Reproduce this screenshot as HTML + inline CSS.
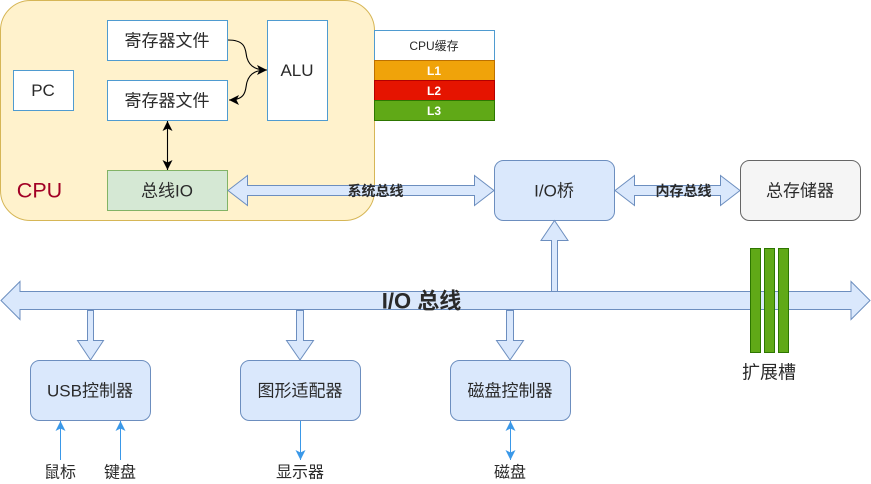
<!DOCTYPE html>
<html><head><meta charset="utf-8"><style>
html,body{margin:0;padding:0;background:#fff}
svg{display:block}
text{font-family:"Liberation Sans","Noto Sans CJK SC",sans-serif;text-anchor:middle;dominant-baseline:central;fill:#2a2a2a}
</style></head><body>
<svg width="871" height="484" viewBox="0 0 871 484" xmlns="http://www.w3.org/2000/svg">
<defs>
<marker id="k" markerWidth="11" markerHeight="11" refX="10" refY="5" orient="auto-start-reverse" markerUnits="userSpaceOnUse"><path d="M0 0L10 5L0 10L2.500 5Z" fill="#000"/></marker>
<marker id="b" markerWidth="11" markerHeight="11" refX="10" refY="5" orient="auto-start-reverse" markerUnits="userSpaceOnUse"><path d="M0 0L10 5L0 10L2.500 5Z" fill="#3a98e8"/></marker>
</defs>
<rect x="0.5" y="0.5" width="374" height="220" rx="30" fill="#fff2cc" stroke="#d6b656"/>
<g fill="#fff" stroke="#4f9bd0">
<rect x="107.500" y="20.500" width="120" height="40"/>
<rect x="107.500" y="80.500" width="120" height="40"/>
<rect x="13.500" y="70.500" width="60" height="40"/>
<rect x="267.500" y="20.500" width="60" height="100"/>
<rect x="374.500" y="30.500" width="120" height="30"/>
</g>
<rect x="107.500" y="170.500" width="120" height="40" fill="#d5e8d4" stroke="#82b366"/>
<rect x="374.500" y="60.500" width="120" height="20" fill="#f0a30a" stroke="#bd7000"/>
<rect x="374.500" y="80.500" width="120" height="20" fill="#e51400" stroke="#b20000"/>
<rect x="374.500" y="100.500" width="120" height="20" fill="#60a917" stroke="#2d7600"/>
<g fill="none" stroke="#000" stroke-width="1.1">
<path d="M228 40C248 40 245 52 247 58C250 68 258 70 267 70" marker-end="url(#k)"/>
<path d="M229 100C248 100 245 88 247 82C250 72 258 70 267 70" marker-start="url(#k)"/>
<path d="M167.500 121V170" marker-start="url(#k)" marker-end="url(#k)"/>
</g>
<g fill="#dae8fc" stroke="#6c8ebf">
<path d="M228 190.500L247.500 175.500V185.500H474.500V175.500L494 190.500L474.500 205.500V195.500H247.500V205.500Z"/>
<path d="M615 190.500L634.500 175.500V185.500H720.500V175.500L740 190.500L720.500 205.500V195.500H634.500V205.500Z"/>
<rect x="494.500" y="160.500" width="120" height="60" rx="9"/>
<path d="M551.500 292V240.500H541L554.500 220.500L568 240.500H557.500V292Z"/>
<path d="M1 300.500L20 281.500V291.500H851V281.500L870 300.500L851 319.500V309.500H20V319.500Z"/>
<path d="M87.500 310.500V340.500H77.500L90.500 360L103.500 340.500H93.500V310.500Z"/>
<path d="M296.500 310.500V340.500H286.500L300 360L313.500 340.500H303.500V310.500Z"/>
<path d="M506.500 310.500V340.500H496.500L510 360L523.500 340.500H513.500V310.500Z"/>
<rect x="30.500" y="360.500" width="120" height="60" rx="9"/>
<rect x="240.500" y="360.500" width="120" height="60" rx="9"/>
<rect x="450.500" y="360.500" width="120" height="60" rx="9"/>
</g>
<rect x="740.500" y="160.500" width="120" height="60" rx="9" fill="#f5f5f5" stroke="#666"/>
<g fill="#60a917" stroke="#2d7600">
<rect x="750.500" y="248.500" width="10" height="104"/>
<rect x="764.500" y="248.500" width="10" height="104"/>
<rect x="778.500" y="248.500" width="10" height="104"/>
</g>
<g fill="none" stroke="#3a98e8">
<path d="M60.500 460V421" marker-end="url(#b)"/>
<path d="M120.500 460V421" marker-end="url(#b)"/>
<path d="M300.500 421V460" marker-end="url(#b)"/>
<path d="M510.500 421V460" marker-start="url(#b)" marker-end="url(#b)"/>
</g>
<g font-size="17">
<text x="167" y="41">寄存器文件</text>
<text x="167" y="101">寄存器文件</text>
<text x="43" y="90.500">PC</text>
<text x="297" y="70.500">ALU</text>
<text x="167" y="191">总线IO</text>
<text x="554" y="191">I/O桥</text>
<text x="800" y="191">总存储器</text>
<text x="90" y="391">USB控制器</text>
<text x="300" y="391">图形适配器</text>
<text x="510" y="391">磁盘控制器</text>
</g>
<text x="769" y="372.500" font-size="18">扩展槽</text>
<text x="39.500" y="190.500" font-size="21.500" style="fill:#a20025">CPU</text>
<text x="434" y="46" font-size="12">CPU缓存</text>
<g font-size="12" font-weight="bold">
<text x="434" y="71" style="fill:#fff">L1</text>
<text x="434" y="91" style="fill:#fff">L2</text>
<text x="434" y="111" style="fill:#fff">L3</text>
</g>
<g font-size="14" font-weight="bold">
<text x="375.500" y="191">系统总线</text>
<text x="683.500" y="191">内存总线</text>
</g>
<text x="421.500" y="301" font-size="22" font-weight="bold">I/O 总线</text>
<g font-size="16">
<text x="60" y="473">鼠标</text>
<text x="120" y="473">键盘</text>
<text x="300" y="473">显示器</text>
<text x="510" y="473">磁盘</text>
</g>
</svg>
</body></html>
